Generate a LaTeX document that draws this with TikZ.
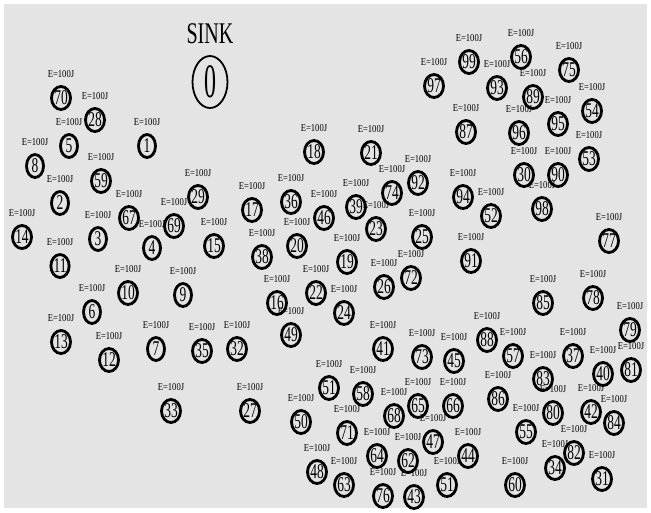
\documentclass[tikz,border=0pt]{standalone}
\usepackage{fontspec}
\usetikzlibrary{shapes.geometric}

\newfontfamily\numfont[FakeStretch=0.64]{Liberation Serif}
\newfontfamily\lblfont[FakeStretch=0.82]{Liberation Serif}
\newfontfamily\sinkfont[FakeStretch=0.67]{Liberation Serif}
\newfontfamily\sinknum[FakeStretch=0.5]{Liberation Serif}
\definecolor{fieldgray}{RGB}{228,228,228}

\tikzset{
  energy/.style={inner sep=0pt, font=\lblfont\fontsize{10.5}{11}\selectfont},
  sensor/.style={ellipse, draw, line width=2.8pt, inner sep=0pt,
    minimum width=17pt, minimum height=23pt,
    font=\numfont\fontsize{21}{21}\selectfont,
    label={[energy]above:E=100J}},
  sinknode/.style={ellipse, draw, line width=1.8pt, inner sep=0pt,
    minimum width=35pt, minimum height=52pt,
    font=\sinknum\fontsize{48}{48}\selectfont},
}

\begin{document}
\begin{tikzpicture}[x=1pt, y=-1pt, label distance=7.3pt]

% Field
\fill[white] (0,0) rectangle (651,512);
\fill[fieldgray] (4,4) rectangle (647,508);

% Sink
\node[font=\sinkfont\fontsize{30}{30}\selectfont] (title) at (210,34) {SINK};
\node[sinknode] (n0) at (210,82) {0};

% Left group
\node[sensor] (n70) at (61,98) {70};
\node[sensor] (n28) at (95,120) {28};
\node[sensor] (n5)  at (69,146) {5};
\node[sensor] (n1)  at (147,146) {1};
\node[sensor] (n8)  at (35,166) {8};
\node[sensor] (n59) at (101,181) {59};
\node[sensor] (n2)  at (60,203) {2};
\node[sensor] (n29) at (198,197) {29};
\node[sensor] (n67) at (129,218) {67};
\node[sensor] (n69) at (174,226) {69};
\node[sensor] (n14) at (22,237) {14};
\node[sensor] (n3)  at (98,239) {3};
\node[sensor] (n4)  at (152,248) {4};
\node[sensor] (n15) at (214,246) {15};
\node[sensor] (n11) at (60,266) {11};
\node[sensor] (n10) at (128,293) {10};
\node[sensor] (n9)  at (183,295) {9};
\node[sensor] (n6)  at (92,312) {6};
\node[sensor] (n13) at (61,342) {13};
\node[sensor] (n12) at (109,360) {12};
\node[sensor] (n7)  at (156,349) {7};
\node[sensor] (n35) at (202,351) {35};
\node[sensor] (n33) at (171,411) {33};

% Middle group
\node[sensor] (n18) at (314,152) {18};
\node[sensor] (n21) at (371,153) {21};
\node[sensor] (n92) at (418,183) {92};
\node[sensor] (n74) at (392,193) {74};
\node[sensor] (n36) at (291,202) {36};
\node[sensor] (n17) at (252,210) {17};
\node[sensor] (n46) at (324,218) {46};
\node[sensor] (n39) at (356,207) {39};
\node[sensor] (n23) at (376,229) {23};
\node[sensor] (n20) at (297,246) {20};
\node[sensor] (n25) at (422,237) {25};
\node[sensor] (n38) at (262,257) {38};
\node[sensor] (n19) at (347,262) {19};
\node[sensor] (n72) at (411,278) {72};
\node[sensor] (n26) at (384,287) {26};
\node[sensor] (n16) at (277,303) {16};
\node[sensor] (n22) at (316,293) {22};
\node[sensor] (n24) at (344,313) {24};
\node[sensor] (n49) at (291,335) {49};
\node[sensor] (n32) at (237,349) {32};
\node[sensor] (n27) at (250,411) {27};
\node[sensor] (n41) at (383,349) {41};

% Upper right group
\node[sensor] (n99) at (469,62) {99};
\node[sensor] (n56) at (521,57) {56};
\node[sensor] (n97) at (434,86) {97};
\node[sensor] (n93) at (497,88) {93};
\node[sensor] (n75) at (569,70) {75};
\node[sensor] (n89) at (533,97) {89};
\node[sensor] (n54) at (592,111) {54};
\node[sensor] (n95) at (558,124) {95};
\node[sensor] (n87) at (466,132) {87};
\node[sensor] (n96) at (519,133) {96};
\node[sensor] (n53) at (589,159) {53};
\node[sensor] (n30) at (524,175) {30};
\node[sensor] (n90) at (558,175) {90};
\node[sensor] (n94) at (463,197) {94};
\node[sensor] (n52) at (491,216) {52};
\node[sensor] (n98) at (542,209) {98};
\node[sensor] (n77) at (609,241) {77};
\node[sensor] (n91) at (471,261) {91};

% Lower middle group
\node[sensor] (n73) at (422,357) {73};
\node[sensor] (n51) at (329,388) {51};
\node[sensor] (n58) at (363,394) {58};
\node[sensor] (n50) at (301,422) {50};
\node[sensor] (n68) at (394,416) {68};
\node[sensor] (n65) at (418,406) {65};
\node[sensor] (n71) at (347,433) {71};
\node[sensor] (n47) at (433,442) {47};
\node[sensor] (n64) at (377,456) {64};
\node[sensor] (n62) at (408,461) {62};
\node[sensor] (n48) at (317,472) {48};
\node[sensor] (n63) at (344,485) {63};
\node[sensor] (n76) at (383,496) {76};
\node[sensor] (n43) at (414,497) {43};
\node[sensor] (n44) at (468,456) {44};
\node[sensor] (n51b) at (447,485) {51};

% Lower right group
\node[sensor] (n85) at (543,303) {85};
\node[sensor] (n78) at (593,298) {78};
\node[sensor] (n79) at (630,330) {79};
\node[sensor] (n88) at (487,340) {88};
\node[sensor] (n45) at (454,361) {45};
\node[sensor] (n57) at (513,356) {57};
\node[sensor] (n37) at (573,356) {37};
\node[sensor] (n40) at (603,374) {40};
\node[sensor] (n81) at (631,370) {81};
\node[sensor] (n83) at (543,379) {83};
\node[sensor] (n86) at (498,399) {86};
\node[sensor] (n66) at (453,406) {66};
\node[sensor] (n42) at (591,412) {42};
\node[sensor] (n80) at (553,413) {80};
\node[sensor] (n84) at (614,423) {84};
\node[sensor] (n55) at (526,432) {55};
\node[sensor] (n82) at (574,453) {82};
\node[sensor] (n34) at (555,468) {34};
\node[sensor] (n60) at (515,485) {60};
\node[sensor] (n31) at (602,479) {31};

\end{tikzpicture}
\end{document}
